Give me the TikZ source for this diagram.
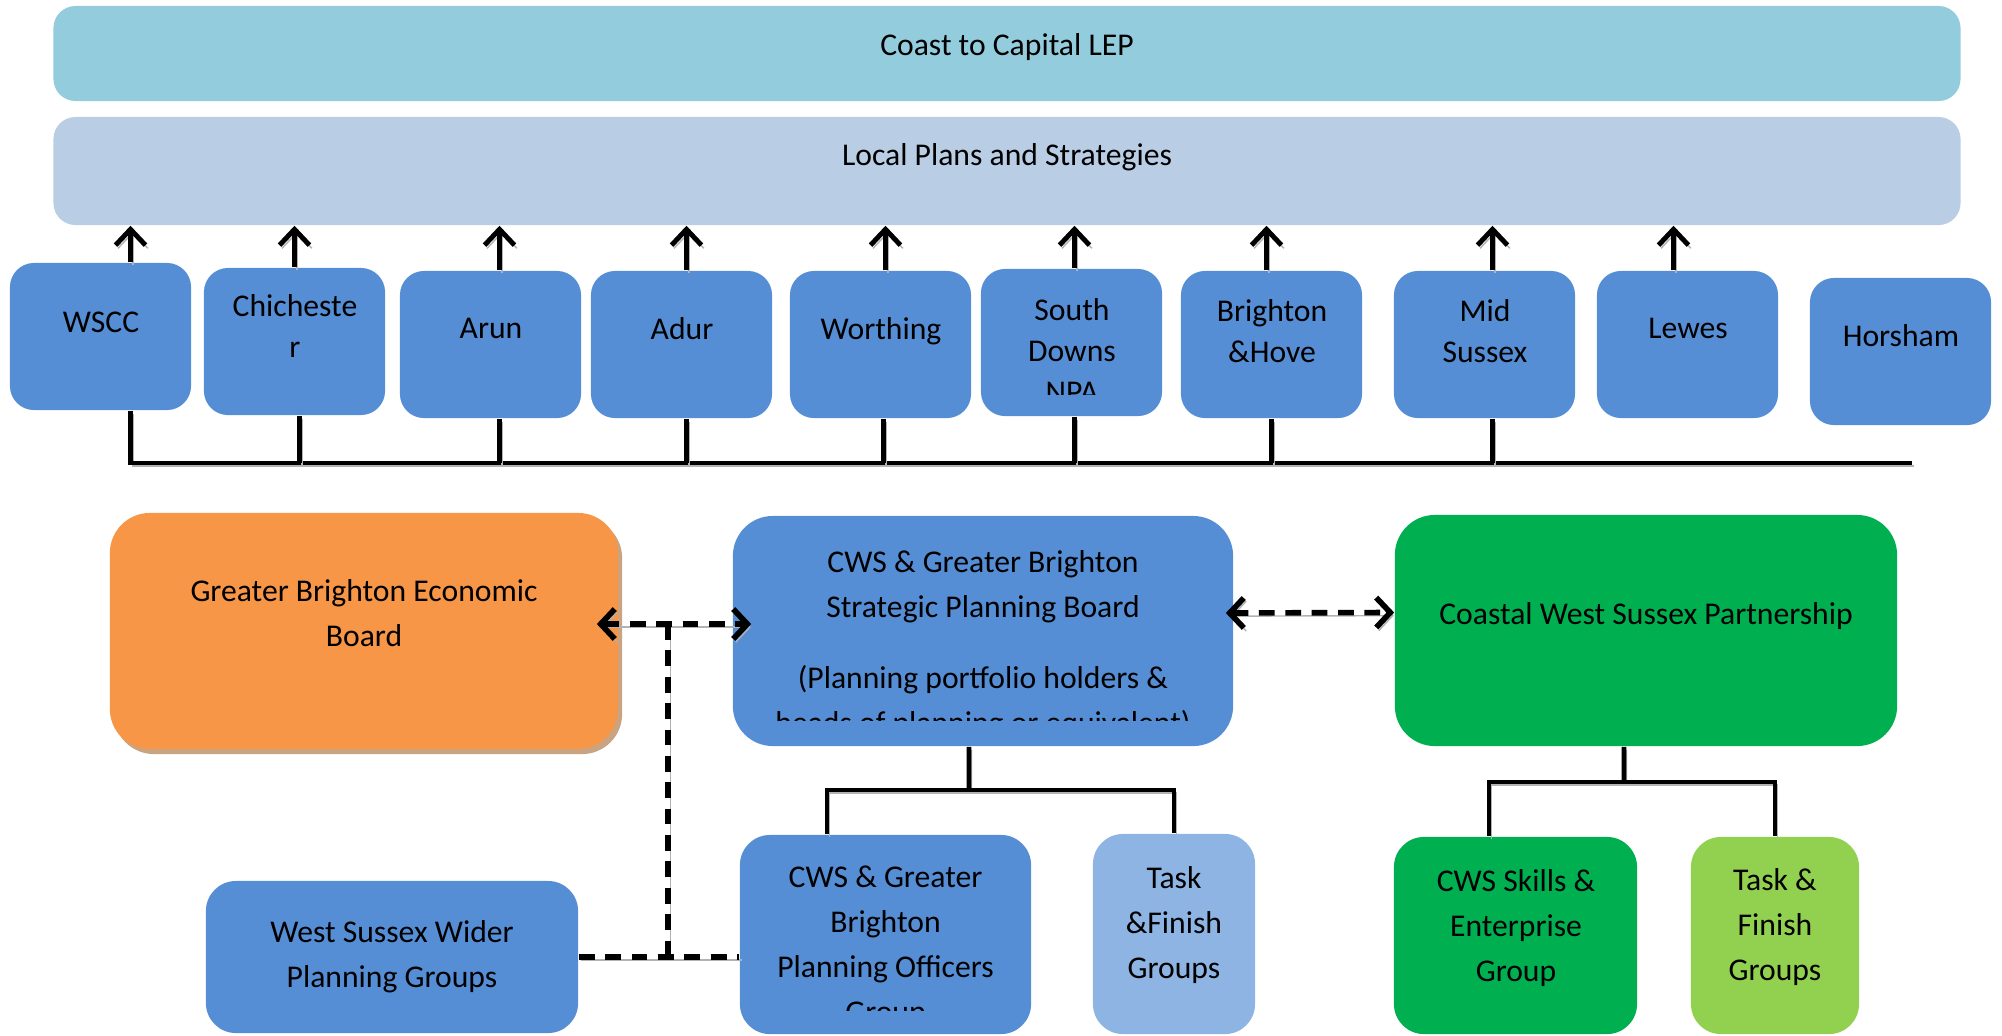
\documentclass[tikz,border=0pt]{standalone}
\usepackage{fontspec}
\setmainfont{Carlito}
\usetikzlibrary{arrows.meta,positioning,shadows}

\definecolor{lepaqua}{HTML}{93CDDD}
\definecolor{plansblue}{HTML}{B9CDE5}
\definecolor{councilblue}{HTML}{558ED5}
\definecolor{boardorange}{HTML}{F79646}
\definecolor{boardshadow}{HTML}{C9A483}
\definecolor{partnergreen}{HTML}{00B050}
\definecolor{taskblue}{HTML}{8DB4E2}
\definecolor{taskgreen}{HTML}{92D050}

\begin{document}
\begin{tikzpicture}[x=0.01cm, y=-0.01cm,
	font=\fontsize{9}{11.7}\selectfont,
	bar/.style={rounded corners=0.22cm, minimum width=19.06cm, inner sep=0pt},
	council/.style={fill=councilblue, rounded corners=0.24cm, minimum width=1.81cm, minimum height=1.47cm, inner sep=0pt},
	board/.style={rounded corners=0.4cm, inner sep=0pt},
	group/.style={rounded corners=0.3cm, inner sep=0pt},
	boxtext/.style={align=center, inner sep=0pt},
	lowtext/.style={boxtext, font=\fontsize{9}{12.8}\selectfont},
	lineshadow/.style={preaction={draw=black!30, transform canvas={shift={(0.7pt,-0.9pt)}}}},
	uparrow/.style={lineshadow, line width=1.4pt, -{Straight Barb[length=4.5pt,width=8.5pt]}},
	busline/.style={lineshadow, line width=1.4pt},
	treeline/.style={lineshadow, line width=1.3pt},
	dashline/.style={lineshadow, line width=1.6pt, dash pattern=on 4.5pt off 3pt},
	dashboth/.style={dashline, {Straight Barb[length=4pt,width=8.5pt]}-{Straight Barb[length=4pt,width=8.5pt]}}]
	\useasboundingbox (0,0) rectangle (2002,1035);

	% top bars
	\node[bar, fill=lepaqua, minimum height=0.95cm] (lep) at (1007,53.5) {};
	\node[boxtext] (leptext) at (1007,47) {Coast to Capital LEP};
	\node[bar, fill=plansblue, minimum height=1.08cm] (plans) at (1007,171) {};
	\node[boxtext] (planstext) at (1007,157) {Local Plans and Strategies};

	% councils
	\node[council] (wscc) at (100.5,336.5) {};
	\node[council] (chich) at (294.5,341.5) {};
	\node[council] (arun) at (490.5,344.5) {};
	\node[council] (adur) at (681.5,344.5) {};
	\node[council] (worthing) at (880.5,344.5) {};
	\node[council] (sdnpa) at (1071.5,342.5) {};
	\node[council] (brighton) at (1271.5,344.5) {};
	\node[council] (midsussex) at (1484.5,344.5) {};
	\node[council] (lewes) at (1687.5,344.5) {};
	\node[council] (horsham) at (1900.5,351.5) {};

	\node[boxtext] (wsccname) at (101,322) {WSCC};
	\node[boxtext] (chichname) at (295,326) {Chicheste\\r};
	\node[boxtext] (arunname) at (491,328.5) {Arun};
	\node[boxtext] (adurname) at (682,328.5) {Adur};
	\node[boxtext] (worthingname) at (881,331) {Worthing};
	\begin{scope}
		\clip (sdnpa.north west) rectangle ([yshift=0.225cm]sdnpa.south east);
		\node[boxtext] (sdnpaname) at (1072,350.5) {South\\Downs\\NPA};
	\end{scope}
	\node[boxtext] (brightonname) at (1272,331) {Brighton\\\&Hove};
	\node[boxtext] (midname) at (1485,331.5) {Mid\\Sussex};
	\node[boxtext] (lewesname) at (1688,328.5) {Lewes};
	\node[boxtext] (horshamname) at (1901,336) {Horsham};

	% arrows up to the plans
	\draw[uparrow] ([xshift=0.3cm]wscc.north) -- ([xshift=0.3cm]wscc.north |- plans.south);
	\draw[uparrow] (chich.north) -- (chich.north |- plans.south);
	\draw[uparrow] ([xshift=0.09cm]arun.north) -- ([xshift=0.09cm]arun.north |- plans.south);
	\draw[uparrow] ([xshift=0.05cm]adur.north) -- ([xshift=0.05cm]adur.north |- plans.south);
	\draw[uparrow] ([xshift=0.05cm]worthing.north) -- ([xshift=0.05cm]worthing.north |- plans.south);
	\draw[uparrow] ([xshift=0.03cm]sdnpa.north) -- ([xshift=0.03cm]sdnpa.north |- plans.south);
	\draw[uparrow] ([xshift=-0.05cm]brighton.north) -- ([xshift=-0.05cm]brighton.north |- plans.south);
	\draw[uparrow] ([xshift=0.08cm]midsussex.north) -- ([xshift=0.08cm]midsussex.north |- plans.south);
	\draw[uparrow] ([xshift=-0.14cm]lewes.north) -- ([xshift=-0.14cm]lewes.north |- plans.south);

	% common line below
	\coordinate (busend) at (1912,463);
	\draw[busline] ([xshift=0.3cm]wscc.south) |- (busend);
	\draw[busline] ([xshift=0.05cm]chich.south) -- ([xshift=0.05cm]chich.south |- busend);
	\draw[busline] ([xshift=0.09cm]arun.south) -- ([xshift=0.09cm]arun.south |- busend);
	\draw[busline] ([xshift=0.05cm]adur.south) -- ([xshift=0.05cm]adur.south |- busend);
	\draw[busline] ([xshift=0.03cm]worthing.south) -- ([xshift=0.03cm]worthing.south |- busend);
	\draw[busline] ([xshift=0.03cm]sdnpa.south) -- ([xshift=0.03cm]sdnpa.south |- busend);
	\draw[busline] (brighton.south) -- (brighton.south |- busend);
	\draw[busline] ([xshift=0.08cm]midsussex.south) -- ([xshift=0.08cm]midsussex.south |- busend);

	% boards
	\node[board, fill=boardorange, minimum width=5.08cm, minimum height=2.36cm,
		drop shadow={shadow xshift=0.04cm, shadow yshift=-0.05cm, fill=boardshadow, opacity=1}] (gbeb) at (364,631) {};
	\node[lowtext] (gbebtext) at (364,613.5) {Greater Brighton Economic\\Board};
	\node[board, fill=councilblue, minimum width=5.0cm, minimum height=2.3cm] (spb) at (983,631) {};
	\begin{scope}
		\clip (spb.north west) rectangle ([yshift=0.26cm]spb.south east);
		\node[lowtext] (spbtext) at (983,645) {CWS \& Greater Brighton\\Strategic Planning Board\\[7.4pt](Planning portfolio holders \&\\heads of planning or equivalent)};
	\end{scope}
	\node[board, fill=partnergreen, minimum width=5.02cm, minimum height=2.31cm] (cwsp) at (1646,630.5) {};
	\node[lowtext] (cwsptext) at (1646,616) {Coastal West Sussex Partnership};

	% groups
	\node[group, fill=councilblue, minimum width=3.72cm, minimum height=1.52cm] (wswpg) at (392,957) {};
	\node[lowtext] (wswpgtext) at (392,957) {West Sussex Wider\\Planning Groups};
	\node[group, fill=councilblue, minimum width=2.91cm, minimum height=1.99cm] (pog) at (885.5,934.5) {};
	\begin{scope}
		\clip (pog.north west) rectangle ([yshift=0.24cm]pog.south east);
		\node[lowtext] (pogtext) at (885.5,947) {CWS \& Greater\\Brighton\\Planning Officers\\Group};
	\end{scope}
	\node[group, fill=taskblue, minimum width=1.62cm, minimum height=2.0cm] (tfblue) at (1174,934) {};
	\node[lowtext] (tfbluetext) at (1174,925) {Task\\\&Finish\\Groups};
	\node[group, fill=partnergreen, minimum width=2.43cm, minimum height=1.97cm] (skills) at (1515.5,935.5) {};
	\node[lowtext] (skillstext) at (1516,928.5) {CWS Skills \&\\Enterprise\\Group};
	\node[group, fill=taskgreen, minimum width=1.68cm, minimum height=1.97cm] (tfgreen) at (1775,935.5) {};
	\node[lowtext] (tfgreentext) at (1775,927.5) {Task \&\\Finish\\Groups};

	% dashed links
	\draw[dashboth] ([xshift=-0.22cm,yshift=0.07cm]gbeb.east) -- ([xshift=0.19cm,yshift=0.07cm]spb.west);
	\draw[dashboth] ([xshift=-0.08cm,yshift=0.18cm]spb.east) -- ([yshift=0.18cm]cwsp.west);
	\coordinate (dashtop) at (668,624);
	\draw[dashline] (dashtop) -- (dashtop |- wswpg.east);
	\draw[dashline] (wswpg.east) -- (pog.west |- wswpg.east);

	% trees
	\coordinate (spbfork) at (969,790);
	\draw[treeline] ([xshift=-0.14cm]spb.south) -- (spbfork);
	\draw[treeline] ([xshift=-0.585cm]pog.north) |- (tfblue.north |- spbfork) -- (tfblue.north);
	\coordinate (cwspfork) at (1624,782);
	\draw[treeline] ([xshift=-0.22cm]cwsp.south) -- (cwspfork);
	\draw[treeline] ([xshift=-0.265cm]skills.north) |- (tfgreen.north |- cwspfork) -- (tfgreen.north);
\end{tikzpicture}
\end{document}
